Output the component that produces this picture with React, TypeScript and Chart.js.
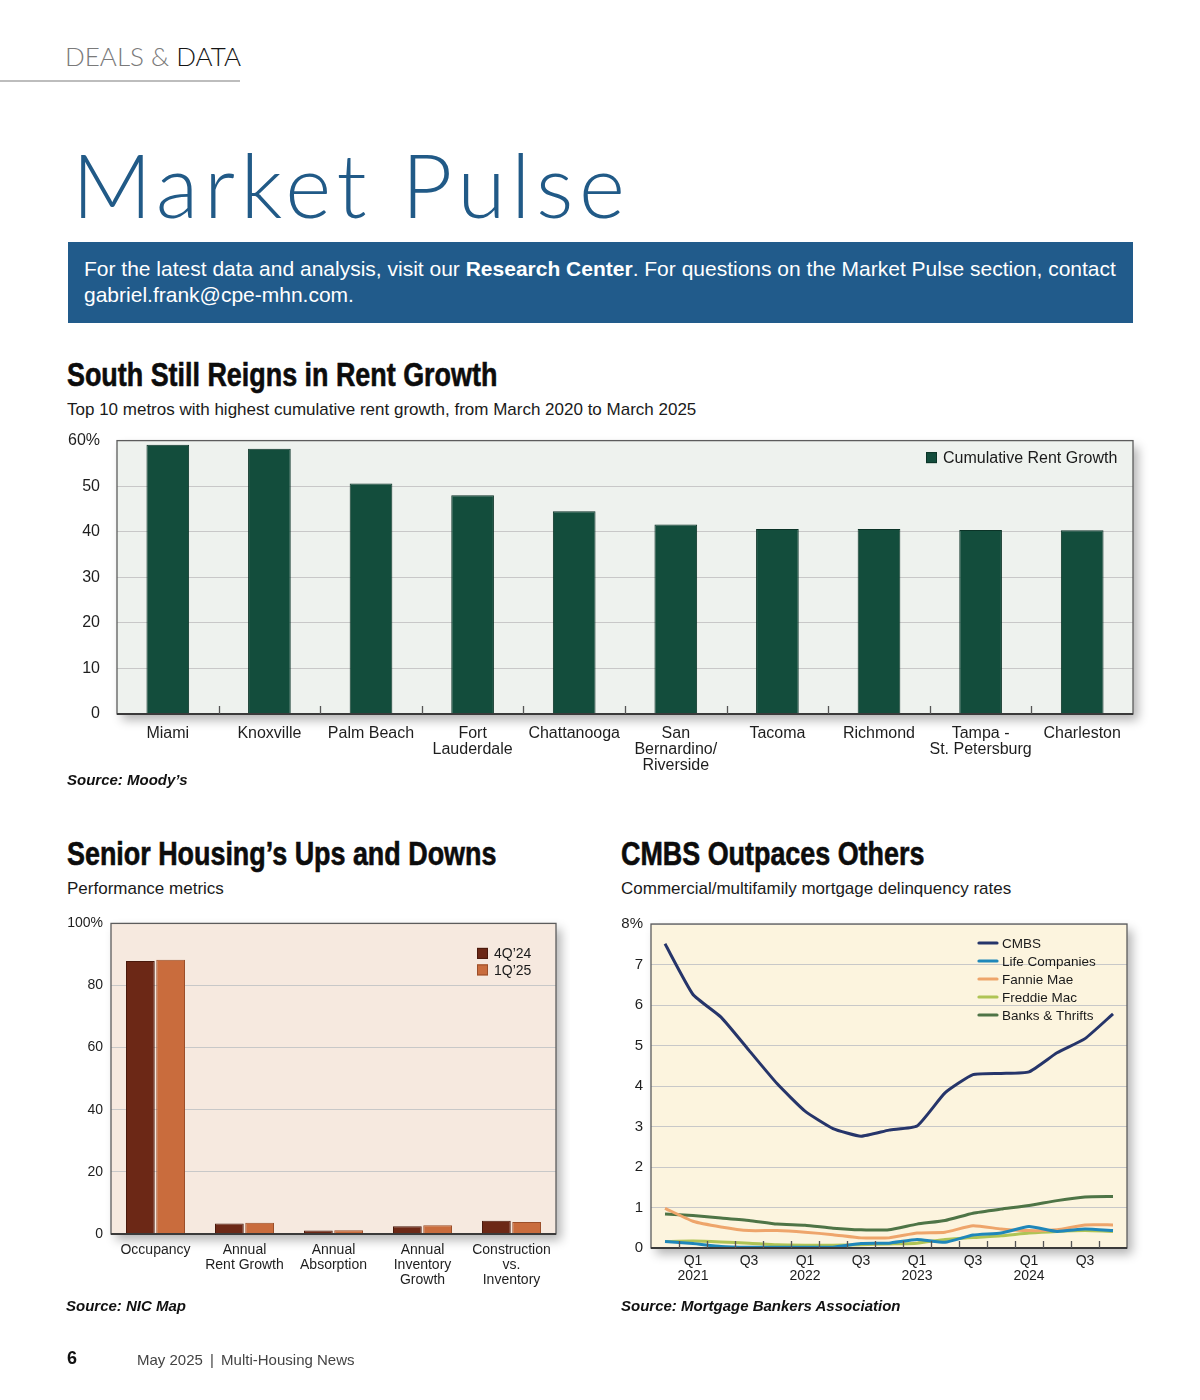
import React, { useEffect, useRef } from 'react';
import { Chart, registerables } from 'chart.js';

Chart.register(...registerables);

const FONT = '"Liberation Sans", Arial, Helvetica, sans-serif';

// ---------- Chart 1: South Still Reigns in Rent Growth ----------
const metros: (string | string[])[] = [
  'Miami',
  'Knoxville',
  'Palm Beach',
  ['Fort', 'Lauderdale'],
  'Chattanooga',
  ['San', 'Bernardino/', 'Riverside'],
  'Tacoma',
  'Richmond',
  ['Tampa -', 'St. Petersburg'],
  'Charleston',
];
const cumulativeRentGrowth = [59.1, 58.2, 50.6, 48.0, 44.5, 41.6, 40.6, 40.6, 40.4, 40.3];
const rentAxisMax = 60;
const rentAxisStep = 10;

// ---------- Chart 2: Senior Housing ----------
const seniorCategories: (string | string[])[] = [
  'Occupancy',
  ['Annual', 'Rent Growth'],
  ['Annual', 'Absorption'],
  ['Annual', 'Inventory', 'Growth'],
  ['Construction', 'vs.', 'Inventory'],
];
const senior4Q24 = [87.9, 3.4, 1.1, 2.5, 4.3];
const senior1Q25 = [88.3, 3.6, 1.2, 2.8, 3.9];
const seniorAxisMax = 100;
const seniorAxisStep = 20;

// ---------- Chart 3: CMBS Outpaces Others ----------
const quarters = [
  'Q4 2020', 'Q1 2021', 'Q2 2021', 'Q3 2021', 'Q4 2021',
  'Q1 2022', 'Q2 2022', 'Q3 2022', 'Q4 2022',
  'Q1 2023', 'Q2 2023', 'Q3 2023', 'Q4 2023',
  'Q1 2024', 'Q2 2024', 'Q3 2024', 'Q4 2024',
];
const quarterTickLabels: string[][] = [
  [''], ['Q1', '2021'], [''], ['Q3'], [''],
  ['Q1', '2022'], [''], ['Q3'], [''],
  ['Q1', '2023'], [''], ['Q3'], [''],
  ['Q1', '2024'], [''], ['Q3'], [''],
];
const cmbsRates = [7.51, 6.26, 5.70, 4.88, 4.06, 3.38, 2.95, 2.76, 2.91, 3.01, 3.83, 4.28, 4.31, 4.35, 4.82, 5.17, 5.78];
const lifeCompaniesRates = [0.16, 0.11, 0.04, 0.02, 0.02, 0.02, 0.02, 0.11, 0.12, 0.21, 0.14, 0.32, 0.37, 0.53, 0.41, 0.47, 0.43];
const fannieMaeRates = [0.98, 0.66, 0.52, 0.43, 0.43, 0.39, 0.33, 0.25, 0.25, 0.37, 0.39, 0.55, 0.47, 0.43, 0.45, 0.57, 0.57];
const freddieMacRates = [0.16, 0.17, 0.15, 0.12, 0.08, 0.07, 0.07, 0.08, 0.10, 0.12, 0.21, 0.26, 0.30, 0.37, 0.41, 0.43, 0.41];
const banksThriftsRates = [0.84, 0.80, 0.74, 0.68, 0.59, 0.56, 0.49, 0.45, 0.45, 0.59, 0.68, 0.86, 0.96, 1.05, 1.17, 1.26, 1.27];
const delinquencyAxisMax = 8;

type FrameOpts = {
  bg: string;
  innerTick: number;
  legend: 'box' | 'line';
  legendFromRight: number;
  legendFromTop: number;
  legendGap: number;
  legendSize: number;
  legendFont: number;
};

function framePlugin(o: FrameOpts) {
  return {
    id: 'frame',
    beforeDraw(chart: any) {
      const { ctx, chartArea: a } = chart;
      ctx.save();
      ctx.shadowColor = 'rgba(0,0,0,0.30)';
      ctx.shadowBlur = 10;
      ctx.shadowOffsetX = 5;
      ctx.shadowOffsetY = 6;
      ctx.fillStyle = o.bg;
      ctx.fillRect(a.left, a.top, a.right - a.left, a.bottom - a.top);
      ctx.restore();
    },
    afterDatasetsDraw(chart: any) {
      const { ctx, chartArea: a } = chart;
      ctx.save();
      ctx.strokeStyle = '#5c5c5c';
      ctx.lineWidth = 1.3;
      ctx.strokeRect(a.left, a.top, a.right - a.left, a.bottom - a.top);
      ctx.strokeStyle = '#3a3a3a';
      ctx.lineWidth = 2;
      ctx.beginPath();
      ctx.moveTo(a.left, a.bottom);
      ctx.lineTo(a.right, a.bottom);
      ctx.stroke();
      if (o.innerTick > 0) {
        const xs = chart.scales.x;
        const n = chart.data.labels.length;
        ctx.lineWidth = 1.3;
        ctx.strokeStyle = '#555';
        ctx.beginPath();
        for (let i = 1; i < n; i++) {
          const x = Math.round((xs.getPixelForTick(i - 1) + xs.getPixelForTick(i)) / 2) + 0.5;
          ctx.moveTo(x, a.bottom);
          ctx.lineTo(x, a.bottom - o.innerTick);
        }
        ctx.stroke();
      }
      // legend
      const x0 = a.right - o.legendFromRight;
      ctx.font = `${o.legendFont}px ${FONT}`;
      ctx.textBaseline = 'middle';
      ctx.textAlign = 'left';
      chart.data.datasets.forEach((ds: any, i: number) => {
        const y = a.top + o.legendFromTop + i * o.legendGap;
        if (o.legend === 'box') {
          ctx.fillStyle = ds.backgroundColor;
          ctx.fillRect(x0, y - o.legendSize / 2, o.legendSize, o.legendSize);
          ctx.strokeStyle = ds.borderColor;
          ctx.lineWidth = 1;
          ctx.strokeRect(x0 + 0.5, y - o.legendSize / 2 + 0.5, o.legendSize - 1, o.legendSize - 1);
          ctx.fillStyle = '#1a1a1a';
          ctx.fillText(ds.label, x0 + o.legendSize + 6, y + 1);
        } else {
          ctx.strokeStyle = ds.borderColor;
          ctx.lineWidth = 3.2;
          ctx.lineCap = 'round';
          ctx.beginPath();
          ctx.moveTo(x0 + 1, y);
          ctx.lineTo(x0 + o.legendSize, y);
          ctx.stroke();
          ctx.fillStyle = '#1a1a1a';
          ctx.fillText(ds.label, x0 + o.legendSize + 5, y + 1);
        }
      });
      ctx.restore();
    },
  };
}

function ChartCanvas({ left, top, width, height, build }: { left: number; top: number; width: number; height: number; build: () => any }) {
  const ref = useRef<HTMLCanvasElement | null>(null);
  useEffect(() => {
    if (!ref.current) return;
    const chart = new Chart(ref.current, build());
    return () => chart.destroy();
  }, []);
  return (
    <canvas
      ref={ref}
      width={width}
      height={height}
      style={{ position: 'absolute', left, top, width, height }}
    />
  );
}

function yAxis(max: number, step: number, width: number, size: number, pad: number) {
  return {
    min: 0,
    max,
    afterFit: (s: any) => { s.width = width; },
    border: { display: false },
    grid: { color: '#c8c8c8', lineWidth: 1, drawTicks: false },
    ticks: {
      stepSize: step,
      padding: pad,
      color: '#1e1e1e',
      font: { family: FONT, size },
      callback: (v: any) => (v === max ? `${v}%` : `${v}`),
    },
  };
}

function xAxis(height: number, size: number, lh: number, pad: number, cb?: (v: any, i: number) => any) {
  const t: any = {
    autoSkip: false,
    maxRotation: 0,
    minRotation: 0,
    padding: pad,
    color: '#1e1e1e',
    font: { family: FONT, size, lineHeight: lh },
  };
  if (cb) t.callback = cb;
  return {
    afterFit: (s: any) => { s.height = height; },
    border: { display: false },
    grid: { display: false, drawTicks: false },
    ticks: t,
  };
}

const rentConfig = () => ({
  type: 'bar',
  data: {
    labels: metros,
    datasets: [
      {
        label: 'Cumulative Rent Growth',
        data: cumulativeRentGrowth,
        backgroundColor: '#134d3c',
        borderColor: '#0b3327',
        borderWidth: 1,
        barPercentage: 0.42,
        categoryPercentage: 1,
      },
    ],
  },
  options: {
    responsive: false,
    animation: false,
    layout: { padding: { top: 10, right: 17, left: 0, bottom: 0 } },
    plugins: { legend: { display: false }, tooltip: { enabled: false } },
    scales: {
      x: xAxis(61, 16, 1.0, 12),
      y: yAxis(rentAxisMax, rentAxisStep, 57, 16, 17),
    },
  },
  plugins: [
    framePlugin({ bg: '#eef2ee', innerTick: 8, legend: 'box', legendFromRight: 207, legendFromTop: 17, legendGap: 18, legendSize: 11, legendFont: 16 }),
  ],
});

const seniorConfig = () => ({
  type: 'bar',
  data: {
    labels: seniorCategories,
    datasets: [
      {
        label: '4Q\u201924',
        data: senior4Q24,
        backgroundColor: '#6c2816',
        borderColor: '#4a190c',
        borderWidth: 1,
        barPercentage: 0.95,
        categoryPercentage: 0.68,
      },
      {
        label: '1Q\u201925',
        data: senior1Q25,
        backgroundColor: '#c96c3d',
        borderColor: '#9b4e29',
        borderWidth: 1,
        barPercentage: 0.95,
        categoryPercentage: 0.68,
      },
    ],
  },
  options: {
    responsive: false,
    animation: false,
    layout: { padding: { top: 10, right: 14, left: 0, bottom: 0 } },
    plugins: { legend: { display: false }, tooltip: { enabled: false } },
    scales: {
      x: xAxis(64, 14, 1.07, 9),
      y: yAxis(seniorAxisMax, seniorAxisStep, 51, 14, 8),
    },
  },
  plugins: [
    framePlugin({ bg: '#f6e9df', innerTick: 0, legend: 'box', legendFromRight: 79, legendFromTop: 30, legendGap: 16.5, legendSize: 11, legendFont: 14 }),
  ],
});

const lineDs = (label: string, data: number[], color: string) => ({
  label,
  data,
  borderColor: color,
  backgroundColor: color,
  borderWidth: 3,
  pointRadius: 0,
  tension: 0.15,
  fill: false,
});

const cmbsConfig = () => ({
  type: 'line',
  data: {
    labels: quarters,
    datasets: [
      lineDs('CMBS', cmbsRates, '#26356a'),
      lineDs('Life Companies', lifeCompaniesRates, '#1f87ba'),
      lineDs('Fannie Mae', fannieMaeRates, '#eea56b'),
      lineDs('Freddie Mac', freddieMacRates, '#afc455'),
      lineDs('Banks & Thrifts', banksThriftsRates, '#4e7446'),
    ],
  },
  options: {
    responsive: false,
    animation: false,
    layout: { padding: { top: 10, right: 18, left: 0, bottom: 0 } },
    plugins: { legend: { display: false }, tooltip: { enabled: false } },
    scales: {
      x: { ...xAxis(50, 14, 1.07, 6, (_v: any, i: number) => quarterTickLabels[i]), offset: true },
      y: yAxis(delinquencyAxisMax, 1, 36, 15, 8),
    },
  },
  plugins: [
    framePlugin({ bg: '#fcf4de', innerTick: 7, legend: 'line', legendFromRight: 149, legendFromTop: 19, legendGap: 18, legendSize: 19, legendFont: 13.5 }),
  ],
});

const abs = (left: number, top: number, extra: React.CSSProperties = {}): React.CSSProperties => ({
  position: 'absolute',
  left,
  top,
  whiteSpace: 'nowrap',
  lineHeight: 1,
  margin: 0,
  ...extra,
});

const heading: React.CSSProperties = {
  fontFamily: FONT,
  fontWeight: 700,
  fontSize: 33,
  color: '#0c0c0c',
  transform: 'scaleX(0.815)',
  transformOrigin: '0 0',
  WebkitTextStroke: '0.6px #0c0c0c',
};
const sub: React.CSSProperties = { fontFamily: FONT, fontSize: 17, color: '#1a1a1a' };
const source: React.CSSProperties = { fontFamily: FONT, fontSize: 15, fontWeight: 700, fontStyle: 'italic', color: '#111' };

export default function App() {
  return (
    <div style={{ position: 'absolute', left: 0, top: 0, width: 1200, height: 1400, background: '#fff', fontFamily: FONT, overflow: 'hidden' }}>
      {/* header */}
      <div style={abs(65, 43, { fontFamily: 'Lato, "Liberation Sans", sans-serif', fontWeight: 300, fontSize: 26 })}>
        <span style={{ color: '#7a7a7a' }}>DEALS &amp; </span>
        <span style={{ color: '#151515' }}>DATA</span>
      </div>
      <div style={{ position: 'absolute', left: 0, top: 80, width: 240, height: 2, background: '#bdbdbd' }} />

      <div style={abs(72, 140, { fontFamily: 'Lato, "Liberation Sans", sans-serif', fontWeight: 300, fontSize: 88, color: '#215a87', letterSpacing: 5.5 })}>
        Market Pulse
      </div>

      <div style={{ position: 'absolute', left: 68, top: 242, width: 1065, height: 81, background: '#215b8b', color: '#fff', fontSize: 21, lineHeight: '26px', padding: '14px 0 0 16px', boxSizing: 'border-box', whiteSpace: 'nowrap' }}>
        For the latest data and analysis, visit our <b>Research Center</b>. For questions on the Market Pulse section, contact
        <br />
        gabriel.frank@cpe-mhn.com.
      </div>

      {/* Chart 1 */}
      <div style={abs(67, 358, heading)}>South Still Reigns in Rent Growth</div>
      <div style={abs(67, 401, sub)}>Top 10 metros with highest cumulative rent growth, from March 2020 to March 2025</div>
      <ChartCanvas left={60} top={414} width={1090} height={361} build={rentConfig} />
      <div style={abs(67, 772, source)}>Source: Moody’s</div>

      {/* Chart 2 */}
      <div style={abs(67, 837, heading)}>Senior Housing’s Ups and Downs</div>
      <div style={abs(67, 880, sub)}>Performance metrics</div>
      <ChartCanvas left={60} top={907} width={510} height={391} build={seniorConfig} />
      <div style={abs(66, 1298, source)}>Source: NIC Map</div>

      {/* Chart 3 */}
      <div style={abs(621, 837, heading)}>CMBS Outpaces Others</div>
      <div style={abs(621, 880, sub)}>Commercial/multifamily mortgage delinquency rates</div>
      <ChartCanvas left={615} top={907} width={530} height={391} build={cmbsConfig} />
      <div style={abs(621, 1298, source)}>Source: Mortgage Bankers Association</div>

      {/* footer */}
      <div style={abs(67, 1349, { fontSize: 18, fontWeight: 700, color: '#111' })}>6</div>
      <div style={abs(137, 1352, { fontSize: 15, color: '#444' })}>
        May 2025 <span style={{ margin: '0 3px' }}>|</span> Multi-Housing News
      </div>
    </div>
  );
}
